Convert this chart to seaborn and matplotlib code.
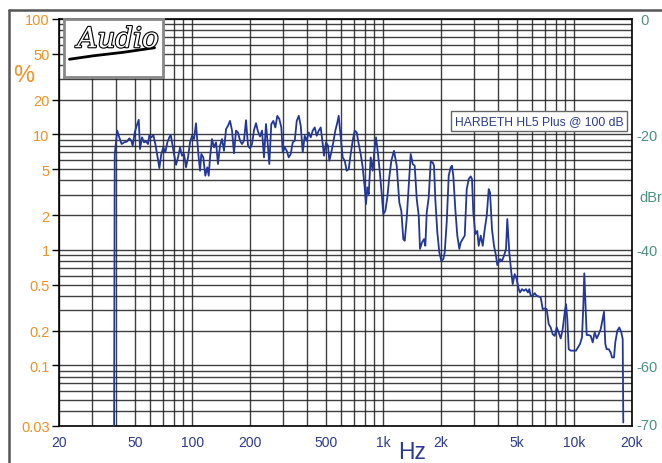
import matplotlib
matplotlib.use('Agg')
import matplotlib.pyplot as plt
import matplotlib.patheffects as pe
from matplotlib.lines import Line2D
from matplotlib.ticker import FixedLocator, FixedFormatter, LogLocator, NullFormatter
import numpy as np
import pandas as pd
import seaborn as sns

# ---- data: frequency (Hz) vs distortion (%) ----
freq_hz = [39, 39.3, 40.5, 41.5, 42.7, 44.0, 45.4, 46.9, 48.0, 48.8,
           50.0, 51.2, 52.5, 53.3, 54.6, 55.9, 57.3, 58.7, 59.6, 61.1,
           62.6, 64.1, 65.7, 67.3, 68.9, 70.6, 72.3, 74.1, 75.9, 77.2,
           78.4, 80.3, 82.3, 84.3, 86.4, 88.4, 90.6, 92.8, 95.1, 97.4,
           99.8, 102.2, 104.7, 106.3, 108.1, 109.9, 111.6, 114.3, 117.1, 120,
           122, 124, 126.9, 130.1, 133.3, 136.4, 139.8, 143.2, 146.7, 150.3,
           154, 157.8, 161.6, 165.5, 169.6, 173.7, 178, 182.3, 186.7, 191.3,
           196, 200.7, 205.6, 210.6, 215.8, 221, 226.5, 232, 237.6, 243.4,
           249.4, 253.3, 259.5, 265.9, 272.4, 279, 285.8, 292.8, 297.8, 305.1,
           312.5, 320.1, 328, 336, 344.2, 352.6, 361.3, 370, 379, 388.2,
           397.7, 407.4, 417.4, 427.6, 437.9, 448.7, 459.6, 470.8, 482.3, 489.9,
           501.8, 514, 522.3, 535, 548, 561.5, 575.2, 584.8, 599.1, 613.7,
           628.7, 644.1, 659.7, 675.8, 692.3, 709.2, 726.5, 744.2, 762.4, 780.9,
           800, 812.7, 825.5, 839.6, 860, 881, 902.6, 916.9, 939.3, 962.1,
           985.6, 1001, 1026, 1051, 1076, 1103, 1139, 1177, 1214, 1244,
           1274, 1296, 1327, 1360, 1393, 1427, 1462, 1498, 1535, 1558,
           1597, 1636, 1662, 1690, 1731, 1773, 1816, 1845, 1874, 1920,
           1967, 2015, 2064, 2099, 2150, 2203, 2256, 2292, 2328, 2385,
           2443, 2503, 2546, 2608, 2672, 2737, 2804, 2872, 2917, 2963,
           3035, 3109, 3162, 3240, 3319, 3400, 3483, 3568, 3624, 3712,
           3803, 3896, 3957, 4088, 4188, 4290, 4395, 4464, 4573, 4685,
           4764, 4880, 4999, 5121, 5202, 5329, 5459, 5592, 5728, 5819,
           5918, 6063, 6211, 6362, 6518, 6677, 6839, 7006, 7178, 7352,
           7532, 7716, 7905, 8098, 8295, 8498, 8706, 8918, 9061, 9204,
           9360, 9588, 9892, 10218, 10469, 10723, 10986, 11160, 11294, 11431,
           11625, 11909, 12201, 12498, 12803, 13116, 13437, 13764, 13982, 14322,
           14549, 14796, 15157, 15527, 15773, 16157, 16412, 16811, 17222, 17643,
           17943, 18072]
thd_pct = [0.03, 6.77, 10.8, 9.44, 8.26, 8.54, 8.65, 9.25, 8.82, 7.98,
           10.4, 11.9, 13.4, 7.47, 9.44, 8.54, 8.71, 8.26, 9.74, 9.44,
           9.88, 8.26, 6.54, 5.11, 6.77, 7.73, 7.0, 8.54, 9.44, 9.94,
           8.54, 6.77, 5.46, 6.33, 7.73, 6.54, 6.77, 5.19, 6.33, 8.54,
           9.74, 9.12, 12.5, 8.82, 6.33, 4.85, 6.77, 6.33, 4.39, 5.19,
           4.39, 6.33, 9.12, 7.73, 8.54, 5.54, 7.98, 9.12, 7.22, 11.1,
           11.9, 13.1, 10.8, 6.86, 10.8, 10.4, 8.82, 8.26, 8.82, 13.3,
           7.98, 7.6, 8.26, 10.9, 12.5, 10.6, 9.6, 10.8, 6.33, 12.3,
           7.73, 5.54, 12.3, 13.1, 11.5, 14.5, 13.6, 11.5, 7.0, 7.73,
           7.22, 6.33, 6.77, 8.54, 8.82, 13.1, 14.5, 11.9, 7.0, 9.74,
           8.82, 10.4, 9.44, 10.8, 11.5, 9.74, 10.8, 11.5, 8.26, 6.54,
           8.54, 7.98, 5.92, 7.0, 8.54, 10.8, 12.7, 14.5, 9.44, 6.33,
           5.92, 4.85, 5.01, 6.77, 8.82, 10.8, 10.4, 8.26, 6.77, 5.19,
           3.48, 2.49, 3.48, 3.04, 6.33, 4.85, 7.73, 9.44, 6.77, 4.54,
           2.85, 2.04, 2.18, 2.85, 4.25, 5.92, 7.22, 5.36, 2.58, 2.18,
           1.24, 1.2, 1.85, 3.59, 6.77, 5.54, 5.36, 2.76, 1.97, 1.02,
           1.16, 1.24, 1.085, 2.11, 2.85, 5.8, 5.73, 5.36, 2.76, 1.42,
           0.951, 0.804, 0.832, 0.951, 1.73, 4.39, 5.19, 5.36, 4.39, 2.26,
           1.33, 1.02, 1.16, 1.24, 1.33, 3.36, 4.11, 4.33, 4.11, 2.11,
           1.37, 1.46, 1.085, 1.33, 1.085, 1.51, 1.97, 3.36, 3.15, 1.51,
           1.085, 0.889, 0.738, 0.832, 0.804, 0.889, 1.02, 1.85, 0.951, 0.638,
           0.505, 0.617, 0.558, 0.457, 0.428, 0.457, 0.442, 0.457, 0.428, 0.457,
           0.4, 0.4, 0.422, 0.4, 0.395, 0.388, 0.307, 0.311, 0.307, 0.228,
           0.213, 0.186, 0.18, 0.213, 0.193, 0.171, 0.206, 0.287, 0.339, 0.251,
           0.138, 0.134, 0.134, 0.134, 0.143, 0.153, 0.175, 0.328, 0.626, 0.375,
           0.183, 0.183, 0.18, 0.158, 0.193, 0.171, 0.186, 0.206, 0.235, 0.291,
           0.153, 0.138, 0.138, 0.129, 0.117, 0.117, 0.158, 0.199, 0.213, 0.193,
           0.169, 0.032]

pct_ticks = [100, 50, 20, 10, 5, 2, 1, 0.5, 0.2, 0.1, 0.03]
pct_labels = ['100', '50', '20', '10', '5', '2', '1', '0.5', '0.2', '0.1', '0.03']
hz_ticks = [20, 50, 100, 200, 500, 1000, 2000, 5000, 10000, 20000]
hz_labels = ['20', '50', '100', '200', '500', '1k', '2k', '5k', '10k', '20k']
dbr_ticks = [0, -20, -40, -60, -70]
dbr_labels = [' 0', '-20', '-40', '-60', '-70']
legend_text = 'HARBETH HL5 Plus @ 100 dB'

# colours
LINE = '#22379a'
ORANGE = '#f3901f'
TEAL = '#4b937a'
BLUE = '#2b3a8f'
GRID = '#1e1e1e'

sns.set_style('white')
plt.rcParams['font.family'] = ['Liberation Sans', 'DejaVu Sans']
plt.rcParams['axes.unicode_minus'] = False

W, H = 662, 464
fig = plt.figure(figsize=(W / 100, H / 100), dpi=100)
fig.patch.set_facecolor('white')

x0, x1, y0, y1 = 58.7, 631.7, 20.0, 426.7
ax = fig.add_axes([x0 / W, 1 - y1 / H, (x1 - x0) / W, (y1 - y0) / H])

df = pd.DataFrame({'Hz': freq_hz, 'pct': thd_pct})
sns.lineplot(data=df, x='Hz', y='pct', ax=ax, color=LINE, lw=1.3,
             estimator=None, sort=False, zorder=5)

ax.set_xscale('log')
ax.set_yscale('log')
ax.set_xlim(20, 20000)
ax.set_ylim(0.03, 100)
ax.set_xlabel('')
ax.set_ylabel('')

ax.xaxis.set_major_locator(FixedLocator(hz_ticks))
ax.xaxis.set_major_formatter(FixedFormatter(hz_labels))
ax.xaxis.set_minor_locator(LogLocator(base=10, subs=np.arange(1, 10), numticks=30))
ax.xaxis.set_minor_formatter(NullFormatter())
ax.yaxis.set_major_locator(FixedLocator(pct_ticks))
ax.yaxis.set_major_formatter(FixedFormatter(pct_labels))
ax.yaxis.set_minor_locator(LogLocator(base=10, subs=np.arange(1, 10), numticks=30))
ax.yaxis.set_minor_formatter(NullFormatter())

ax.grid(which='both', color=GRID, lw=1.0, alpha=0.85)
for s in ax.spines.values():
    s.set_color('black')
    s.set_linewidth(1.2)

ax.tick_params(axis='y', which='major', length=5, width=1, color='black',
               labelcolor=ORANGE, labelsize=10.5, pad=1.5)
ax.tick_params(axis='x', which='major', length=4, width=1, color='black',
               labelcolor=BLUE, labelsize=10, pad=3)
ax.tick_params(which='minor', length=0)

# right dBr axis
ax2 = ax.twinx()
ax2.set_ylim(20 * np.log10(0.03 / 100), 0)
ax2.yaxis.set_major_locator(FixedLocator(dbr_ticks))
ax2.yaxis.set_major_formatter(FixedFormatter(dbr_labels))
ax2.tick_params(axis='y', length=0, labelcolor=TEAL, labelsize=10.5, pad=3.6)
for s in ax2.spines.values():
    s.set_visible(False)

# axis titles
fig.text(24 / W, 1 - 76 / H, '%', color=ORANGE, fontsize=17, ha='center', va='center')
fig.text(412 / W, 1 - 453 / H, 'Hz', color=BLUE, fontsize=16.5, ha='center', va='center')
fig.text(639 / W, 1 - 198 / H, 'dBr', color=TEAL, fontsize=10.5, ha='left', va='center')

# legend label
fig.text(539 / W, 1 - 122 / H, legend_text, color=BLUE, fontsize=8.7,
         ha='center', va='center', zorder=10,
         bbox=dict(boxstyle='square,pad=0.3', fc='white', ec='#666666', lw=1))

# outer frame (top and left edges visible)
fig.add_artist(Line2D([9 / W, 1], [1 - 11 / H, 1 - 11 / H], transform=fig.transFigure,
                      color='#555555', lw=1.8))
fig.add_artist(Line2D([9 / W, 9 / W], [0, 1 - 11 / H], transform=fig.transFigure,
                      color='#555555', lw=1.8))

# logo box
lax = fig.add_axes([63.5 / W, 1 - 77.5 / H, 99 / W, 57.5 / H])
lax.set_facecolor('white')
lax.set_xticks([])
lax.set_yticks([])
for s in lax.spines.values():
    s.set_color('#888888')
    s.set_linewidth(2)
lax.set_xlim(0, 1)
lax.set_ylim(0, 1)
lax.text(0.55, 0.64, 'Audio', fontsize=20, style='italic', family='DejaVu Serif',
         ha='center', va='center', color='white',
         path_effects=[pe.Stroke(linewidth=1.6, foreground='black'), pe.Normal()])
lax.plot([0.06, 0.3, 0.6, 0.92], [0.3, 0.36, 0.42, 0.5], color='black', lw=2.0)

fig.savefig('out.png', dpi=100, facecolor='white')
